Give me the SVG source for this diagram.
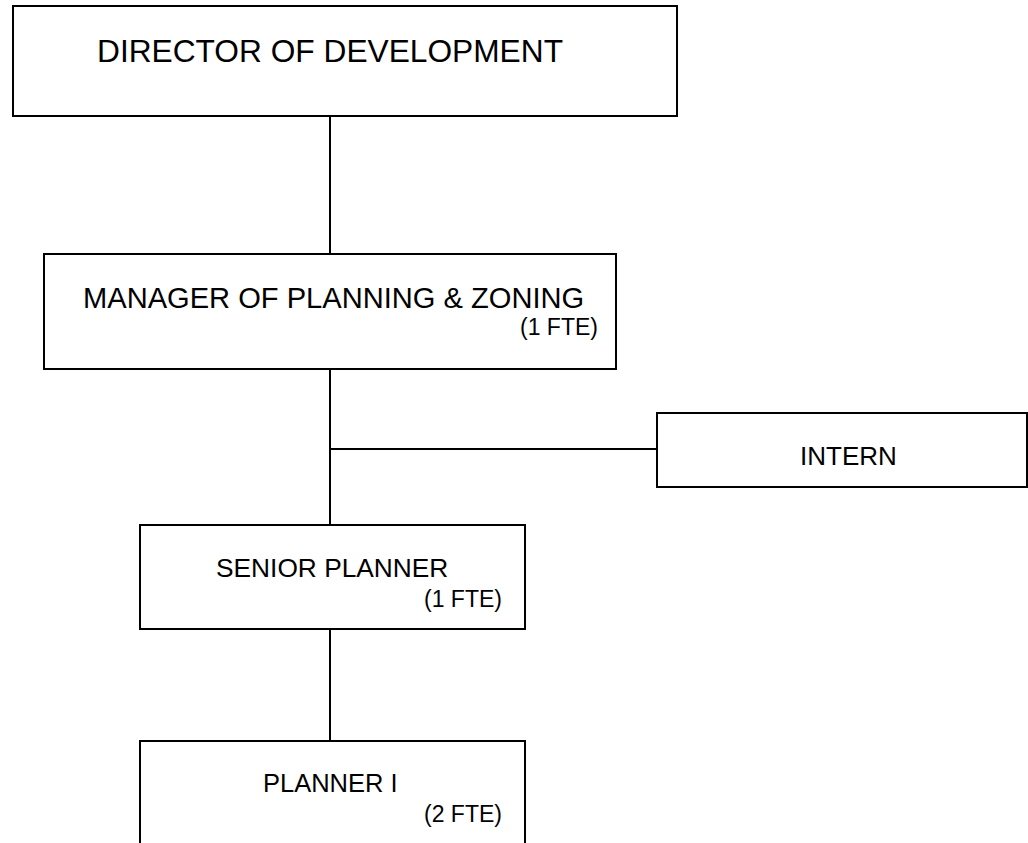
<svg xmlns="http://www.w3.org/2000/svg" width="1028" height="843" viewBox="0 0 1028 843">
<style>
.box{fill:#fff;stroke:#000;stroke-width:2}
.ln{stroke:#000;stroke-width:2;fill:none}
text{font-family:"Liberation Sans",Arial,sans-serif;fill:#000}
.sub{font-size:23px}
</style>
<rect width="1028" height="843" fill="#fff"/>
<g id="connectors">
<line class="ln" x1="330" y1="117" x2="330" y2="254"/>
<line class="ln" x1="330" y1="369" x2="330" y2="525"/>
<line class="ln" x1="330" y1="449" x2="657" y2="449"/>
<line class="ln" x1="330" y1="629" x2="330" y2="741"/>
</g>
<g id="director">
<rect class="box" x="13" y="6" width="664" height="110"/>
<text x="97" y="61.5" font-size="31.7">DIRECTOR OF DEVELOPMENT</text>
</g>
<g id="manager">
<rect class="box" x="44" y="254" width="572" height="115"/>
<text x="83" y="308" font-size="29.1">MANAGER OF PLANNING &amp; ZONING</text>
<text class="sub" x="520" y="335">(1 FTE)</text>
</g>
<g id="intern">
<rect class="box" x="657" y="413" width="370" height="74"/>
<text x="800" y="465" font-size="26">INTERN</text>
</g>
<g id="senior-planner">
<rect class="box" x="140" y="525" width="385" height="104"/>
<text x="216" y="577" font-size="26.3">SENIOR PLANNER</text>
<text class="sub" x="424" y="607">(1 FTE)</text>
</g>
<g id="planner-i">
<rect class="box" x="140" y="741" width="385" height="130"/>
<text x="263" y="792" font-size="25.5">PLANNER I</text>
<text class="sub" x="424" y="822">(2 FTE)</text>
</g>
</svg>
